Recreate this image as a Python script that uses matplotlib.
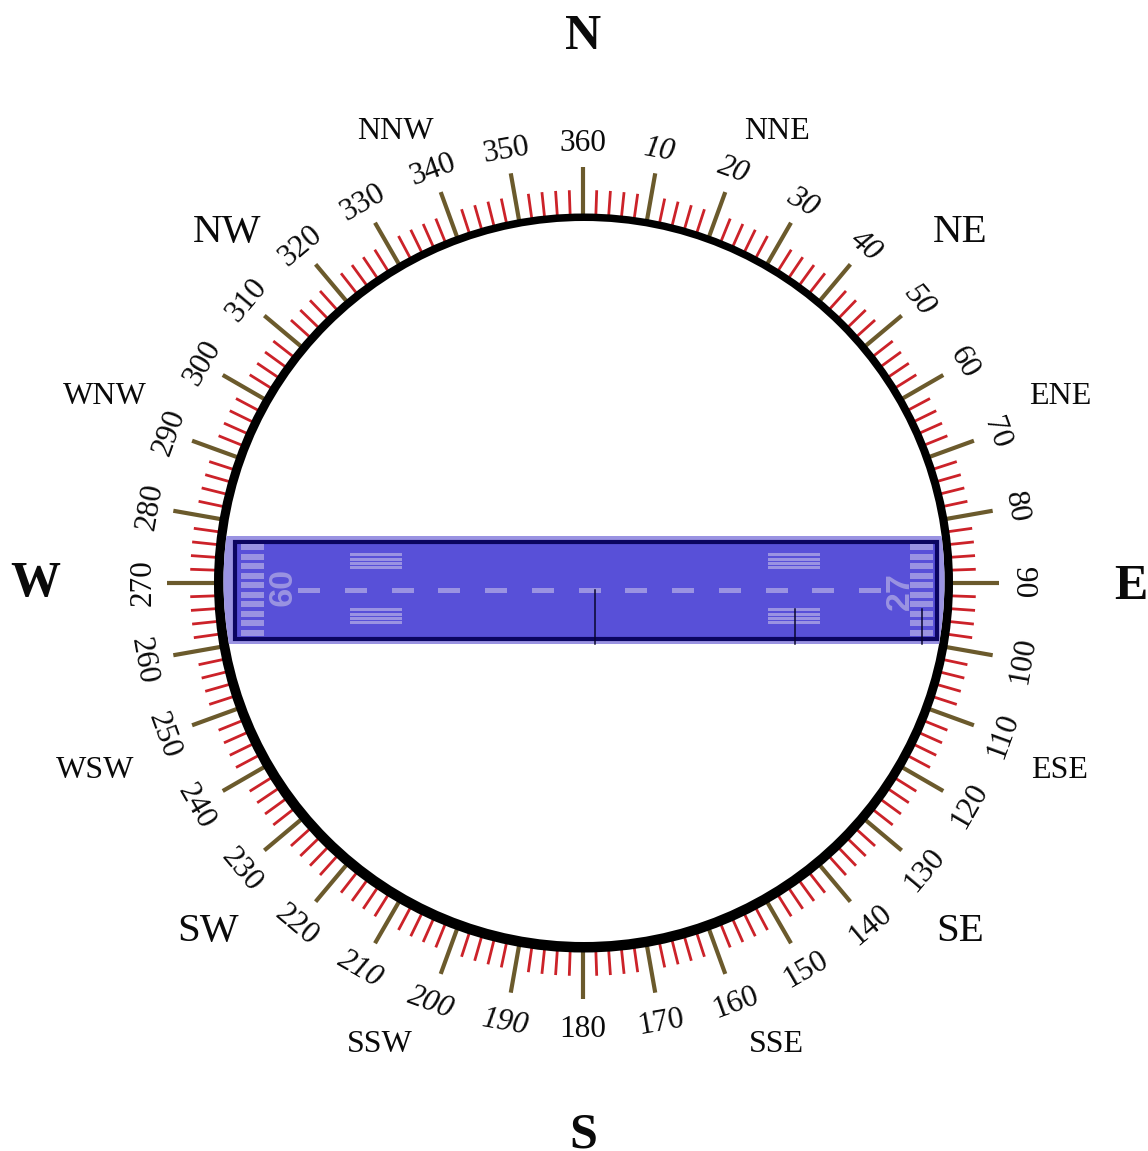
import numpy as np
import matplotlib
matplotlib.use("Agg")
import matplotlib.pyplot as plt
from matplotlib.patches import Circle, Rectangle

# Compass data
major_headings = list(range(10, 370, 10))
minor_headings = [h for h in range(0, 360, 2) if h % 10 != 0]
italic_headings = [10, 20, 30, 40, 50, 190, 200, 210]

cardinal_labels = ["N", "E", "S", "W"]
cardinal_xy = [(583, 31), (1131, 581), (583, 1130), (35, 578)]
inter_labels = ["NE", "SE", "SW", "NW"]
inter_xy = [(960, 228), (960, 927), (208, 927), (227, 228)]
tertiary_labels = ["NNE", "ENE", "ESE", "SSE", "SSW", "WSW", "WNW", "NNW"]
tertiary_xy = [(777, 128), (1060, 393), (1060, 767), (776, 1041),
               (380, 1041), (95, 767), (105, 393), (395, 128)]

# Runway data
threshold_y = [547, 557, 566, 576, 585, 595, 604, 614, 623, 633]
threshold_x = [241, 910]
centerline_x = [298, 345, 392, 438, 485, 532, 579, 625, 672, 719, 766, 812, 859]
touchdown_x = [350, 768]
touchdown_y = [553, 558, 562, 566, 608, 613, 617, 621]
marker_lines = [(595, 590), (795, 609), (922, 609)]

center = (583, 583)
light = "#9a93e2"
blue = "#5850d8"
navy = "#0b0560"
olive = "#6b5a2c"
red = "#cc2229"
ink = "#0a0a0a"


def polar(heading, r):
    a = np.radians(heading)
    return center[0] + r * np.sin(a), center[1] - r * np.cos(a)


def label_rotation(heading):
    # labels stay readable, flipped for the lower half
    if 100 <= heading <= 260:
        return 180 - heading
    return -heading if heading <= 90 else 360 - heading


fig = plt.figure(figsize=(11.48, 11.51), dpi=100)
ax = fig.add_axes([0, 0, 1, 1])
ax.set_xlim(0, 1148)
ax.set_ylim(1151, 0)
ax.axis("off")

# Tick marks run under the ring
for h in minor_headings:
    x0, y0 = polar(h, 362)
    x1, y1 = polar(h, 393)
    ax.plot([x0, x1], [y0, y1], color=red, lw=2.0, solid_capstyle="butt", zorder=1)
for h in major_headings:
    x0, y0 = polar(h, 362)
    x1, y1 = polar(h, 416)
    ax.plot([x0, x1], [y0, y1], color=olive, lw=3.0, solid_capstyle="butt", zorder=1)

# Ring is heavier toward the bottom
ax.add_patch(Circle((583.5, 583), 369.5, fc="black", ec="none", zorder=2))
inner = Circle((584, 581.5), 360.5, fc="white", ec="none", zorder=3)
ax.add_patch(inner)

# Runway
apron = Rectangle((220, 536), 732, 108, fc=light, ec="none", zorder=4)
ax.add_patch(apron)
apron.set_clip_path(inner)
ax.add_patch(Rectangle((235, 541.5), 701.5, 97.5, fc=blue, ec=navy, lw=3.0, zorder=5))

for x in threshold_x:
    for y in threshold_y:
        ax.add_patch(Rectangle((x, y - 2.7), 22.5, 5.4, fc=light, ec="none", zorder=6))
for x in centerline_x:
    ax.add_patch(Rectangle((x, 587.5), 22, 5, fc=light, ec="none", zorder=6))
for x in touchdown_x:
    for y in touchdown_y:
        ax.add_patch(Rectangle((x, y), 52, 3, fc=light, ec="none", zorder=6))

ax.text(279, 590, "09", rotation=-90, color=light, family="Liberation Sans", weight="bold",
        fontsize=24.5, ha="center", va="center_baseline", rotation_mode="anchor", zorder=7)
ax.text(897, 591, "27", rotation=90, color=light, family="Liberation Sans", weight="bold",
        fontsize=24.5, ha="center", va="center_baseline", rotation_mode="anchor", zorder=7)

for x, y in marker_lines:
    ax.plot([x, x], [y, 644], color="#08062e", lw=1.1, zorder=8)

# Heading numbers
for h in major_headings:
    x, y = polar(h, 443)
    ax.text(x, y, str(h), rotation=label_rotation(h), family="Liberation Serif",
            style="italic" if h in italic_headings else "normal", fontsize=22.5,
            color=ink, ha="center", va="center_baseline", rotation_mode="anchor")

# Compass point names
for name, (x, y) in zip(cardinal_labels, cardinal_xy):
    ax.text(x, y, name, family="Liberation Serif", weight="bold", fontsize=36,
            color=ink, ha="center", va="center_baseline")
for name, (x, y) in zip(inter_labels, inter_xy):
    ax.text(x, y, name, family="Liberation Serif", fontsize=29.5,
            color=ink, ha="center", va="center_baseline")
for name, (x, y) in zip(tertiary_labels, tertiary_xy):
    ax.text(x, y, name, family="Liberation Serif", fontsize=23,
            color=ink, ha="center", va="center_baseline")

fig.savefig("out.png", dpi=100)
